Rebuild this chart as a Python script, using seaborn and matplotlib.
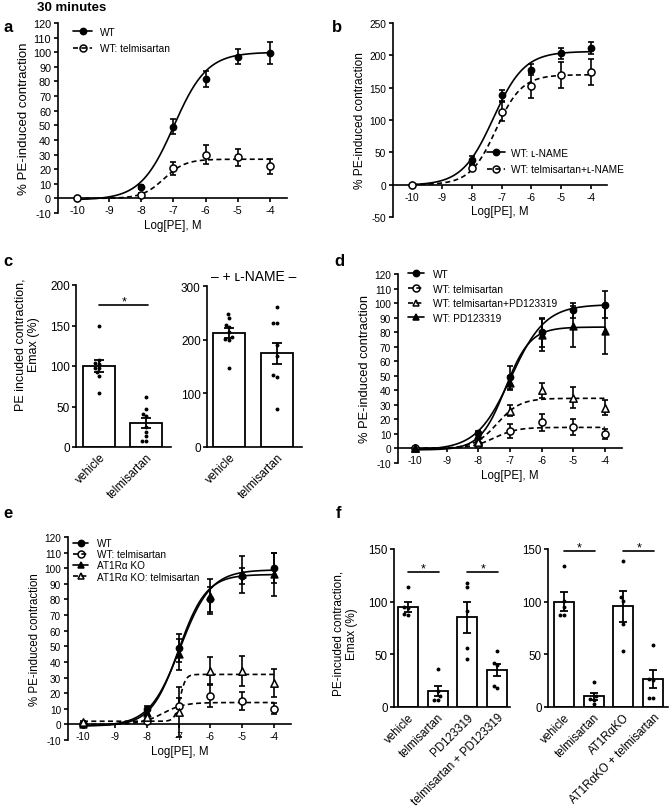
import numpy as np
import pandas as pd
import matplotlib
matplotlib.use("Agg")
import matplotlib.pyplot as plt
from matplotlib.lines import Line2D
import seaborn as sns

# ---------------- data ----------------
log_pe = [-10, -8, -7, -6, -5, -4]
x_ticks = [-10, -9, -8, -7, -6, -5, -4]

# panel a
a_wt_mean = [0.5, 8, 49, 81.5, 97, 99.5]
a_wt_sem = [0.5, 1.5, 5, 5.5, 5, 7.5]
a_tel_mean = [0, 2.5, 20.5, 30, 28, 22]
a_tel_sem = [0.5, 1, 4.5, 6.5, 6, 5]
a_wt_fit = [-1, 100, -6.99, 0.84]      # bottom, top, logEC50, hill slope
a_tel_fit = [0, 26.8, -7.3, 1.3]

# panel b
b_lname_mean = [0, 38, 138, 178, 203, 211]
b_lname_sem = [1, 6, 8, 9, 9, 9.5]
b_tel_mean = [0, 26, 113, 153, 170, 174]
b_tel_sem = [1, 5, 15, 19, 20, 20]
b_lname_fit = [-1, 206, -7.28, 0.83]
b_tel_fit = [0, 170, -7.19, 1.0]

# panel c
c_cats = ["vehicle", "telmisartan"]
c_left_mean = [100, 30]
c_left_sem = [7, 6]
c_left_pts = [[149, 108, 104, 103, 98, 97, 92, 88, 67],
              [62, 47, 41, 38, 25, 18, 13, 8, 8]]
c_right_mean = [212, 175]
c_right_sem = [9, 19.5]
c_right_pts = [[247, 240, 227, 224, 215, 205, 202, 200, 148],
               [261, 231, 231, 190, 170, 135, 131, 70]]

# panel d
d_wt_mean = [0.5, 10.5, 49, 80, 95, 99]
d_wt_sem = [0.5, 1.5, 8, 10, 5, 9.5]
d_tel_mean = [0, 3, 12, 18, 15, 10]
d_tel_sem = [0.5, 1, 5, 6, 5.5, 3.5]
d_telpd_mean = [0, 4.5, 26, 40, 35, 28]
d_telpd_sem = [0.5, 1.5, 4, 5, 7, 5]
d_pd_mean = [0, 9, 45, 78, 84, 81]
d_pd_sem = [0.5, 1.5, 5, 11, 14, 16]
d_wt_fit = [-1, 99, -6.97, 0.8]
d_tel_fit = [0, 14.5, -7.5, 1.2]
d_telpd_fit = [0, 34.5, -7.4, 1.2]
d_pd_fit = [-1, 83.5, -7.15, 1.1]

# panel e
e_wt_mean = [0.5, 10, 49, 80, 95, 100]
e_wt_sem = [0.5, 1.5, 9, 8, 5, 9.5]
e_wttel_mean = [0, 2, 12, 18, 15, 10]
e_wttel_sem = [0.5, 1, 5, 7, 5.5, 3.5]
e_ko_mean = [0, 7, 45, 82, 96, 96]
e_ko_sem = [0.5, 1.5, 10, 11, 12, 14]
e_kotel_mean = [1.5, 5, 8, 34.5, 34, 26.5]
e_kotel_sem = [0.5, 1.5, 16, 8.6, 9.6, 9.2]
e_wt_fit = [-1, 99, -6.95, 0.9]
e_wttel_fit = [0, 14, -7.5, 1.3]
e_ko_fit = [-1, 96, -7.0, 1.0]
e_kotel_fit = [2, 32, -6.95, 5]

# panel f
f_left_cats = ["vehicle", "telmisartan", "PD123319", "telmisartan + PD123319"]
f_left_mean = [95, 15, 85, 35]
f_left_sem = [5, 5, 14.5, 6]
f_left_pts = [[114, 95, 94, 88, 87], [36, 15, 10, 7, 7],
              [118, 114, 91, 56, 46], [53, 42, 40, 20, 18]]
f_right_cats = ["vehicle", "telmisartan", "AT1R\u03b1KO", "AT1R\u03b1KO + telmisartan"]
f_right_mean = [100, 10, 95.5, 26.5]
f_right_sem = [9, 3, 14.5, 8.7]
f_right_pts = [[134, 101, 95, 87, 87], [24, 10, 8, 7, 3],
               [139, 104, 101, 79, 53], [59, 27, 26, 9, 9]]

# significance brackets: (start, end, height)
c_sig = [(0, 1.05, 175)]
f_left_sig = [(0, 1.03, 128), (2, 3.05, 128)]
f_right_sig = [(0, 1.03, 148), (2, 3.03, 148)]

# ---------------- style ----------------
sns.set_theme(style="ticks")
plt.rcParams["font.family"] = ["Liberation Sans", "DejaVu Sans"]
plt.rcParams["axes.unicode_minus"] = False
plt.rcParams["axes.linewidth"] = 1.2
plt.rcParams["xtick.major.width"] = 1.2
plt.rcParams["ytick.major.width"] = 1.2
plt.rcParams["xtick.major.size"] = 3
plt.rcParams["ytick.major.size"] = 3
plt.rcParams["xtick.color"] = "black"
plt.rcParams["ytick.color"] = "black"
plt.rcParams["axes.edgecolor"] = "black"
plt.rcParams["text.color"] = "black"
plt.rcParams["axes.labelcolor"] = "black"

W, H = 669, 812
fig = plt.figure(figsize=(W / 100, H / 100), dpi=100)


def rect(x0, y_top, x1, y_bot):
    return [x0 / W, 1 - y_bot / H, (x1 - x0) / W, (y_bot - y_top) / H]


def hill(x, p):
    b, t, ec, h = p
    return b + (t - b) / (1 + 10 ** ((ec - x) * h))


DASH = (0, (3, 2))


def draw_series(ax, mean, sem, fit, marker, filled, dashed, ms, cap=2.5):
    xs = np.linspace(-10, -4, 400)
    sns.lineplot(x=xs, y=hill(xs, fit), ax=ax, color="black", linewidth=1.2,
                 linestyle=DASH if dashed else "-", zorder=2)
    ax.errorbar(log_pe, mean, yerr=sem, fmt="none", ecolor="black",
                elinewidth=1.2, capsize=cap, capthick=1.2, zorder=3)
    sns.scatterplot(x=log_pe, y=mean, ax=ax, marker=marker, s=ms,
                    color="black" if filled else "white", edgecolor="black",
                    linewidth=1.1, zorder=4)


def setup_curve(ax, xlim, ylim, yticks, fs, lfs, ylfs):
    ax.set_xlim(*xlim)
    ax.set_ylim(*ylim)
    ax.spines["bottom"].set_position(("data", 0))
    ax.spines["top"].set_visible(False)
    ax.spines["right"].set_visible(False)
    ax.set_xticks(x_ticks)
    ax.set_xticklabels([str(v) for v in x_ticks])
    ax.set_yticks(yticks)
    ax.set_yticklabels([str(v) for v in yticks])
    ax.tick_params(labelsize=fs, pad=2)
    ax.set_xlabel("Log[PE], M", fontsize=lfs, labelpad=2.5)
    ax.set_ylabel("% PE-induced contraction", fontsize=ylfs, labelpad=2)


def handle(marker, filled, dashed, ms):
    return Line2D([], [], color="black", lw=1.2, ls=DASH if dashed else "-",
                  marker=marker, ms=ms, mfc="black" if filled else "none",
                  mec="black", mew=1.1)


def legend(ax, handles, labels, x, y, fs, spacing, hlen, hpad):
    ax.legend(handles, labels, loc="upper left", bbox_to_anchor=(x / W, 1 - y / H),
              bbox_transform=fig.transFigure, frameon=False, fontsize=fs,
              borderpad=0, borderaxespad=0, labelspacing=spacing,
              handlelength=hlen, handletextpad=hpad)


def bar_panel(ax, cats, means, sems, pts, ylim, yticks, xlim, width, fs, cap, sig):
    df = pd.DataFrame({"cat": cats, "val": means})
    sns.barplot(data=df, x="cat", y="val", order=cats, color="white",
                saturation=1, edgecolor="black", linewidth=1.3, width=width,
                errorbar=None, ax=ax)
    ax.errorbar(range(len(cats)), means, yerr=sems, fmt="none", ecolor="black",
                elinewidth=1.3, capsize=cap, capthick=1.3, zorder=4)
    pdf = pd.DataFrame({"cat": np.repeat(cats, [len(p) for p in pts]),
                        "val": np.concatenate([np.asarray(p, float) for p in pts])})
    sns.swarmplot(data=pdf, x="cat", y="val", order=cats, color="black",
                  size=2.8, ax=ax, zorder=5)
    ax.set_xlim(*xlim)
    ax.set_ylim(*ylim)
    ax.set_yticks(yticks)
    ax.set_yticklabels([str(v) for v in yticks])
    ax.spines["top"].set_visible(False)
    ax.spines["right"].set_visible(False)
    ax.set_xlabel("")
    ax.set_ylabel("")
    ax.set_xticks(range(len(cats)))
    ax.set_xticklabels(cats, rotation=45, ha="right", rotation_mode="anchor",
                       fontsize=fs)
    ax.tick_params(axis="x", length=0, pad=3)
    ax.tick_params(axis="y", labelsize=fs, pad=1.5)
    for (s, e, h) in sig:
        ax.plot([s, e], [h, h], color="black", lw=1.2)
        ax.text((s + e) / 2, h + 1, "*", ha="center", va="baseline", fontsize=9)


# ---------------- panel a ----------------
ax_a = fig.add_axes(rect(58, 24, 287, 214))
draw_series(ax_a, a_wt_mean, a_wt_sem, a_wt_fit, "o", True, False, 20)
draw_series(ax_a, a_tel_mean, a_tel_sem, a_tel_fit, "o", False, True, 26)
setup_curve(ax_a, (-10.59, -3.47), (-10, 120), list(range(-10, 121, 10)), 7.8, 8.3, 9.5)
legend(ax_a, [handle("o", True, False, 4.5), handle("o", False, True, 5)],
       ["WT", "WT: telmisartan"], 73, 28, 7.3, 0.6, 1.9, 0.8)

# ---------------- panel b ----------------
ax_b = fig.add_axes(rect(393, 24, 607, 218))
draw_series(ax_b, b_lname_mean, b_lname_sem, b_lname_fit, "o", True, False, 20)
draw_series(ax_b, b_tel_mean, b_tel_sem, b_tel_fit, "o", False, True, 26)
setup_curve(ax_b, (-10.64, -3.47), (-50, 250), list(range(-50, 251, 50)), 7.3, 8.3, 8.6)
legend(ax_b, [handle("o", True, False, 4.5), handle("o", False, True, 5)],
       ["WT: \u029f-NAME", "WT: telmisartan+\u029f-NAME"], 487, 149, 7.3, 0.6, 1.8, 0.6)

# ---------------- panel c ----------------
ax_cl = fig.add_axes(rect(76, 286, 171, 448))
bar_panel(ax_cl, c_cats, c_left_mean, c_left_sem, c_left_pts, (0, 200),
          [0, 50, 100, 150, 200], (-0.49, 1.53), 0.68, 8.5, 3.3, c_sig)
ax_cl.set_ylabel("PE incuded contraction,\nEmax (%)", fontsize=9)
ax_cl.yaxis.set_label_coords(-0.38, 0.64)

ax_cr = fig.add_axes(rect(207, 287, 302, 448))
bar_panel(ax_cr, c_cats, c_right_mean, c_right_sem, c_right_pts, (0, 300),
          [0, 100, 200, 300], (-0.47, 1.53), 0.68, 8.5, 3.3, [])
fig.text(254 / W, 1 - 277 / H, "\u2013 + \u029f-NAME \u2013", ha="center", va="center",
         fontsize=10)

# ---------------- panel d ----------------
ax_d = fig.add_axes(rect(398, 275, 622, 464))
draw_series(ax_d, d_wt_mean, d_wt_sem, d_wt_fit, "o", True, False, 20)
draw_series(ax_d, d_tel_mean, d_tel_sem, d_tel_fit, "o", False, True, 26)
draw_series(ax_d, d_telpd_mean, d_telpd_sem, d_telpd_fit, "^", False, True, 28)
draw_series(ax_d, d_pd_mean, d_pd_sem, d_pd_fit, "^", True, False, 24)
setup_curve(ax_d, (-10.54, -3.46), (-10, 120), list(range(-10, 121, 10)), 7.3, 8.3, 9.3)
legend(ax_d, [handle("o", True, False, 4.5), handle("o", False, True, 5),
              handle("^", False, True, 5), handle("^", True, False, 5)],
       ["WT", "WT: telmisartan", "WT: telmisartan+PD123319", "WT: PD123319"],
       408, 270, 7.3, 0.45, 1.6, 0.9)

# ---------------- panel e ----------------
ax_e = fig.add_axes(rect(68, 538, 291, 741))
draw_series(ax_e, e_wt_mean, e_wt_sem, e_wt_fit, "o", True, False, 20)
draw_series(ax_e, e_wttel_mean, e_wttel_sem, e_wttel_fit, "o", False, True, 26)
draw_series(ax_e, e_ko_mean, e_ko_sem, e_ko_fit, "^", True, False, 24)
draw_series(ax_e, e_kotel_mean, e_kotel_sem, e_kotel_fit, "^", False, True, 28)
setup_curve(ax_e, (-10.47, -3.47), (-10, 120), list(range(-10, 121, 10)), 7.2, 8.3, 8.3)
legend(ax_e, [handle("o", True, False, 4.5), handle("o", False, True, 5),
              handle("^", True, False, 5), handle("^", False, True, 5)],
       ["WT", "WT: telmisartan", "AT1R\u03b1 KO", "AT1R\u03b1 KO: telmisartan"],
       73, 539, 7.2, 0.12, 1.5, 0.9)

# ---------------- panel f ----------------
ax_fl = fig.add_axes(rect(394, 550, 510, 708))
bar_panel(ax_fl, f_left_cats, f_left_mean, f_left_sem, f_left_pts, (0, 150),
          [0, 50, 100, 150], (-0.47, 3.44), 0.67, 8.3, 3, f_left_sig)
ax_fl.set_ylabel("PE-incuded contraction,\nEmax (%)", fontsize=8.5)
ax_fl.yaxis.set_label_coords(-0.31, 0.47)

ax_fr = fig.add_axes(rect(548, 550, 668, 708))
bar_panel(ax_fr, f_right_cats, f_right_mean, f_right_sem, f_right_pts, (0, 150),
          [0, 50, 100, 150], (-0.54, 3.5), 0.67, 8.3, 3, f_right_sig)

# ---------------- titles / panel letters ----------------
fig.text(37 / W, 1 - 8 / H, "30 minutes", fontsize=9.5, fontweight="bold",
         ha="left", va="center")
for lab, x, y in [("a", 3, 27), ("b", 332, 27), ("c", 3, 262), ("d", 334, 262),
                  ("e", 3, 514), ("f", 336, 514)]:
    fig.text(x / W, 1 - y / H, lab, fontsize=12, fontweight="bold",
             ha="left", va="center")

fig.savefig("out.png", dpi=100)
